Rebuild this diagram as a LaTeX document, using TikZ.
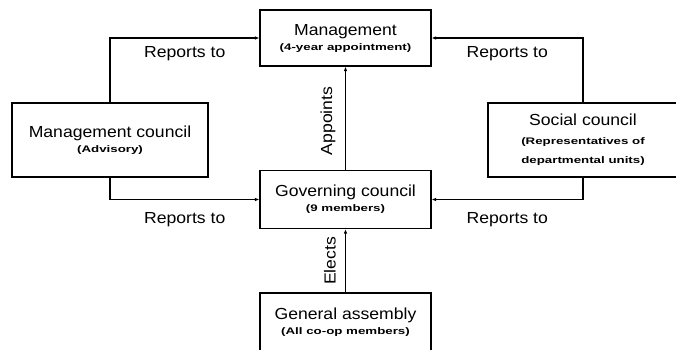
\documentclass[tikz,border=0pt]{standalone}
\usepackage{fontspec}
\setmainfont{Liberation Sans}
\newfontfamily\mainff[FakeStretch=1.1]{Liberation Sans}
\newfontfamily\subff[FakeStretch=1.4]{Liberation Sans}
\usetikzlibrary{arrows.meta}
\newcommand\mytitle[1]{{\mainff\fontsize{16}{15}\selectfont #1}}
\newcommand\mysub[1]{{\subff\bfseries\fontsize{9.5}{15}\selectfont #1}}
\tikzset{
  box/.style={draw, line width=1.1pt, inner sep=0pt, align=center, font=\fontsize{16}{15}\selectfont},
  conn/.style={line width=1.1pt, -{Latex[length=4.5pt,width=3.5pt]}},
  lab/.style={inner sep=0pt, font=\mainff\fontsize{16}{18}\selectfont},
}
\begin{document}
\begin{tikzpicture}[x=1pt,y=-1pt]
\useasboundingbox (0,0) rectangle (676,349);
\node[box, minimum width=171pt, minimum height=56pt] (mgmt) at (345.5,38)
  {\mytitle{Management}\\\mysub{(4-year appointment)}};
\node[box, minimum width=196pt, minimum height=74pt] (mc) at (110,140)
  {\mytitle{Management council}\\\mysub{(Advisory)}};
\node[box, minimum width=190pt, minimum height=74pt, font=\fontsize{16}{19}\selectfont] (sc) at (583,140)
  {\mytitle{Social council}\\\mysub{(Representatives of}\\\mysub{departmental units)}};
\node[box, minimum width=171pt, minimum height=58pt] (gov) at (345.5,199.5)
  {\mytitle{Governing council}\\\mysub{(9 members)}};
\node[box, minimum width=171pt, minimum height=58pt] (ga) at (345.5,322)
  {\mytitle{General assembly}\\\mysub{(All co-op members)}};

\draw[conn] (mc.north) |- (mgmt.west) node[lab, pos=0.75, below=8pt] (l1) {Reports to};
\draw[conn] (mc.south) |- (gov.west) node[lab, pos=0.75, below=12pt] (l2) {Reports to};
\draw[conn] (sc.north) |- (mgmt.east) node[lab, pos=0.75, below=8pt] (l3) {Reports to};
\draw[conn] (sc.south) |- (gov.east) node[lab, pos=0.75, below=12pt] (l4) {Reports to};
\draw[conn] (gov.north) -- (mgmt.south);
\draw[conn] (ga.north) -- (gov.south);
\node[lab, rotate=90] (appl) at (328,121) {Appoints};
\node[lab, rotate=90] (elel) at (330,261) {Elects};
\end{tikzpicture}
\end{document}
